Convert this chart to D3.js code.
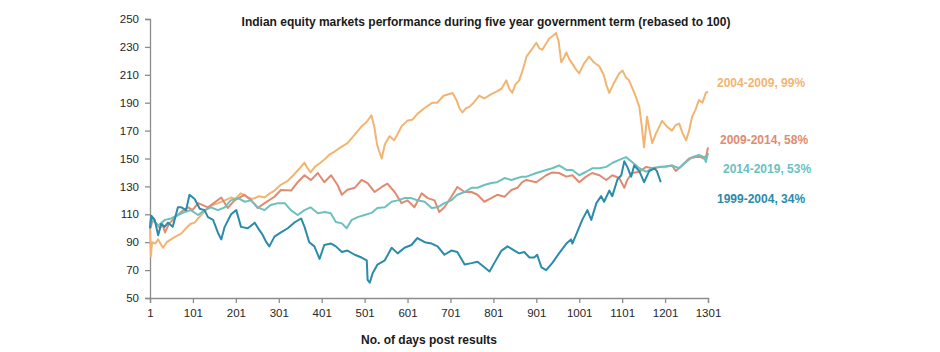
<!DOCTYPE html>
<html>
<head>
<meta charset="utf-8">
<script src="https://cdn.jsdelivr.net/npm/d3@7"></script>
<style>
  html, body { margin: 0; padding: 0; background: #fff; }
  svg { display: block; font-family: "Liberation Sans", Arial, sans-serif; }
</style>
</head>
<body>
<svg id="chart" width="940" height="352"></svg>
<script>
// ---------- DATA ----------
const chartTitle = "Indian equity markets performance during five year government term (rebased to 100)";
const xAxisTitle = "No. of days post results";
const xTicks = [1, 101, 201, 301, 401, 501, 601, 701, 801, 901, 1001, 1101, 1201, 1301];
const yTicks = [50, 70, 90, 110, 130, 150, 170, 190, 210, 230, 250];

const seriesNames = ["2004-2009", "2009-2014", "2014-2019", "1999-2004"];
const seriesReturns = ["99%", "58%", "53%", "34%"];

// [day, value] pairs
const s2004 = [[1,100],[3,80],[6,90],[13,89],[20,92],[31,86],[40,90],[50,92],[60,94],[73,96],[85,100],[95,103],[105,104],[113,107],[125,111],[136,115],[150,117],[160,118],[175,120],[190,122],[200,121],[212,125],[220,124],[229,122],[240,121],[255,123],[268,122],[280,125],[291,127],[305,131],[322,134],[335,138],[350,143],[361,147],[368,143],[375,140],[385,144],[398,147],[410,150],[420,153],[431,155],[445,158],[461,161],[475,166],[494,173],[505,176],[517,181],[524,172],[530,160],[535,155],[541,150],[548,160],[559,166],[570,163],[587,173],[600,177],[613,178],[624,182],[640,186],[659,190],[670,190],[685,195],[706,197],[715,192],[722,186],[729,183],[737,186],[745,187],[755,190],[768,195],[780,193],[795,196],[808,198],[820,200],[831,206],[838,200],[845,197],[852,203],[861,206],[870,214],[878,223],[890,228],[901,233],[908,229],[915,228],[925,233],[931,236],[940,238],[947,240],[953,234],[959,219],[965,222],[971,226],[978,221],[985,218],[993,214],[1001,211],[1012,218],[1024,223],[1035,219],[1048,216],[1058,210],[1065,202],[1071,197],[1080,203],[1094,211],[1102,213],[1110,208],[1117,206],[1124,201],[1132,195],[1141,187],[1146,175],[1152,158],[1159,180],[1165,170],[1171,161],[1180,168],[1194,177],[1205,173],[1217,170],[1226,174],[1234,175],[1242,168],[1250,163],[1257,170],[1264,180],[1272,185],[1280,192],[1288,190],[1296,197],[1301,198]];

const s2009 = [[1,100],[3,101],[8,107],[14,104],[24,100],[30,103],[36,97],[45,103],[60,108],[75,112],[90,115],[100,113],[113,118],[136,115],[167,122],[182,114.5],[198,120],[221,124],[237,120],[252,114.5],[268,118],[291,122.6],[306,127.4],[330,127],[345,133],[361,138],[376,134.5],[392,139.6],[407,133],[423,138],[438,131],[448,124],[461,127.6],[478,129],[494,134.6],[508,132.4],[524,126],[541,129.6],[554,132],[571,126],[587,118],[601,120],[617,115],[634,125],[648,121.6],[664,120],[675,111.6],[687,115],[703,122.6],[717,129.6],[734,126],[750,126],[764,124],[780,119],[796,121.6],[810,124],[827,122.6],[843,127.4],[857,129],[868,133],[878,134.6],[901,133],[924,138],[938,140],[954,139.6],[971,137],[985,138],[1001,133],[1017,137],[1031,139.6],[1048,138],[1064,134.6],[1078,138],[1094,136],[1106,129],[1113,134.6],[1124,139.6],[1141,140.5],[1157,144],[1171,143],[1194,144],[1217,145],[1226,141],[1240,145],[1257,150],[1273,151],[1285,151],[1291,150],[1297,152],[1301,158]];

const s2014 = [[1,100],[3,107],[20,102],[36,106],[50,107],[66,109.5],[82,111.6],[96,113],[113,109.5],[129,113],[143,115],[159,113],[175,115],[189,120],[206,121.6],[222,119],[236,120],[252,115],[268,113],[282,116.7],[299,118],[315,118],[329,113],[345,109.5],[361,113],[375,115],[392,110.8],[408,111.6],[422,110.8],[434,104.5],[448,103.5],[459,100],[471,106],[485,108],[501,109.5],[517,111],[531,114.5],[548,115],[564,119],[578,120],[594,121.6],[610,121.6],[624,120],[641,119],[657,114.5],[671,115],[687,118],[703,120],[717,124],[734,126],[750,129],[764,129],[780,131],[796,132.4],[810,133],[827,136],[843,134.6],[857,136],[868,137],[878,137],[901,139.6],[924,141.8],[938,143],[954,145],[971,141.8],[985,141.8],[1001,138],[1017,140.5],[1031,143],[1048,143],[1064,144],[1078,146.8],[1094,149],[1110,151],[1124,147.5],[1141,143],[1157,140.5],[1171,143],[1187,144],[1203,144],[1217,145],[1234,143],[1250,147.5],[1264,151],[1280,152.5],[1292,151],[1296,147.5],[1301,154]];

const s1999 = [[1,100],[4,109],[12,106],[20,95],[27,103],[35,101],[43,104],[54,101],[66,115],[74,115],[85,113],[93,124],[105,121],[117,114],[128,113],[136,108],[148,106],[159,97],[167,92],[175,101],[190,110],[202,113],[213,101],[229,100],[245,104],[255,99],[262,96],[272,90],[279,87],[291,94],[306,97],[322,100],[337,104],[353,107],[361,101],[372,90],[384,87],[396,78],[407,88],[423,89],[434,87],[448,83],[461,84],[478,81],[494,79],[506,77],[508,63],[513,61],[520,68],[531,74],[548,77],[564,86],[578,82],[594,86],[610,88],[624,93],[641,90],[657,89],[671,87],[687,81],[703,84],[717,83],[734,74],[750,75],[764,76],[780,72],[792,69],[803,75],[820,84],[834,87],[850,84],[861,82],[873,83],[885,79],[896,79],[903,81],[913,72],[924,70],[938,75],[954,82],[971,89],[982,92],[985,89],[996,97],[1008,106],[1020,113],[1029,106],[1041,118],[1052,123],[1059,119],[1071,127],[1078,123],[1090,135],[1099,138],[1106,148],[1113,144],[1122,137],[1129,145],[1141,141],[1152,133],[1164,141],[1176,143],[1182,141],[1191,133]];

const seriesData = [s2004, s2009, s2014, s1999];
const seriesColors = ["#F1B571", "#E08B70", "#6CC0BF", "#2A8BAA"];

// ---------- CHART ----------
const svg = d3.select("#chart");
const x = d3.scaleLinear().domain([1, 1301]).range([150, 708]);
const y = d3.scaleLinear().domain([50, 250]).range([298, 19]);

const yAxis = svg.append("g")
  .attr("transform", "translate(150,0)")
  .call(d3.axisLeft(y).tickValues(yTicks).tickSize(5).tickPadding(6).tickFormat(d3.format("d")));
const xAxis = svg.append("g")
  .attr("transform", "translate(0,298)")
  .call(d3.axisBottom(x).tickValues(xTicks).tickSize(5).tickPadding(6).tickFormat(d3.format("d")));

[yAxis, xAxis].forEach(g => {
  g.select(".domain").attr("stroke", "#8c8c8c").attr("stroke-width", 1.3);
  g.selectAll(".tick line").attr("stroke", "#8c8c8c").attr("stroke-width", 1.3);
  g.selectAll(".tick text").attr("fill", "#262626")
    .style("font-family", "'Liberation Sans', Arial, sans-serif").style("font-size", "11.5px");
});

const line = d3.line().x(d => x(d[0])).y(d => y(d[1]));
seriesData.forEach((s, i) => {
  svg.append("path")
    .datum(s)
    .attr("fill", "none")
    .attr("stroke", seriesColors[i])
    .attr("stroke-width", 2)
    .attr("stroke-linejoin", "round")
    .attr("d", line);
});

const labelPos = [[717, 86.5], [720, 144], [723, 173], [717, 203]];
seriesNames.forEach((n, i) => {
  svg.append("text")
    .attr("x", labelPos[i][0]).attr("y", labelPos[i][1])
    .attr("fill", seriesColors[i])
    .style("font-size", "12px").style("font-weight", "bold")
    .text(n + ", " + seriesReturns[i]);
});

svg.append("text")
  .attr("x", 486).attr("y", 26)
  .attr("text-anchor", "middle")
  .attr("fill", "#1a1a1a")
  .style("font-size", "12px").style("font-weight", "bold")
  .text(chartTitle);

svg.append("text")
  .attr("x", 429).attr("y", 344)
  .attr("text-anchor", "middle")
  .attr("fill", "#1a1a1a")
  .style("font-size", "12px").style("font-weight", "bold")
  .text(xAxisTitle);
</script>
</body>
</html>
